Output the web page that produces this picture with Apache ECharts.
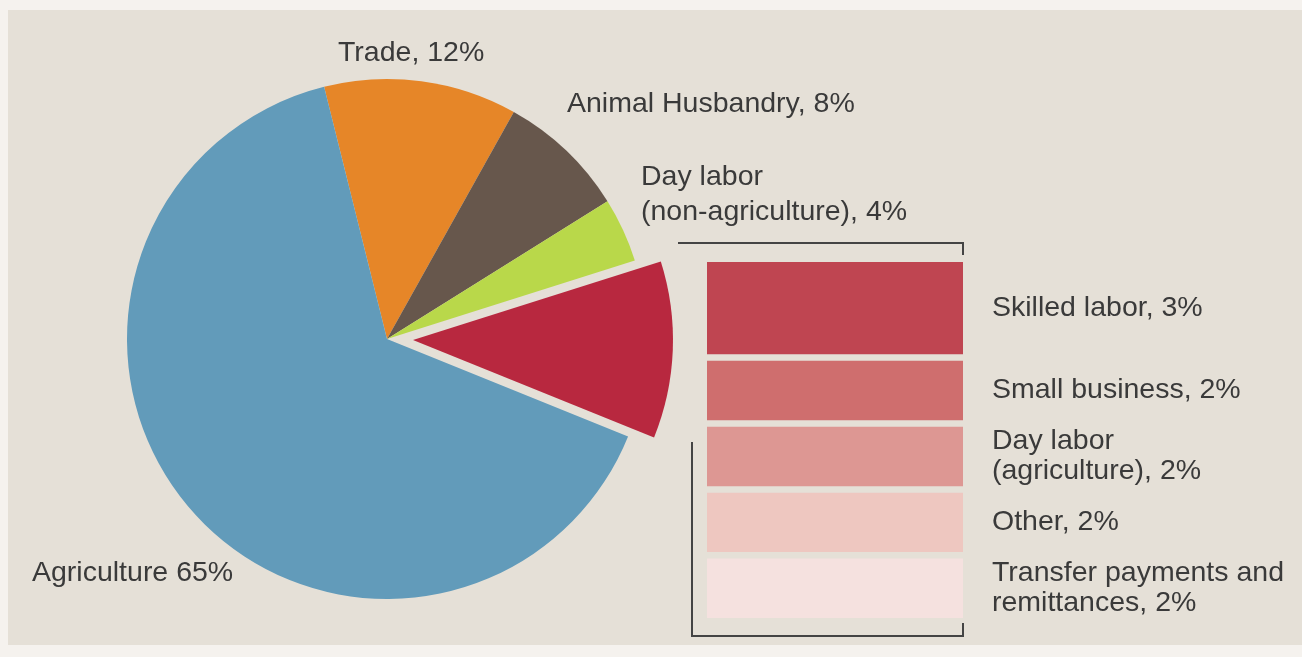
<!DOCTYPE html>
<html>
<head>
<meta charset="utf-8">
<script src="https://cdn.jsdelivr.net/npm/echarts@6/dist/echarts.min.js"></script>
<style>html,body{margin:0;padding:0;background:#f5f2ee}#c{width:1302px;height:657px}</style>
</head>
<body>
<div id="c"></div>
<script>
// ---- data ----
const pieNames = ['Trade', 'Animal Husbandry', 'Day labor\n(non-agriculture)', 'Other', 'Agriculture'];
const pieValues = [12, 8, 4, 11, 65];
const pieSeparators = [', ', ', ', ', ', '', ' '];
const pieColors = ['#e68628', '#67574c', '#b9d84a', '#b8283f', '#629bba'];

const otherNames = ['Skilled labor', 'Small business', 'Day labor\n(agriculture)', 'Other', 'Transfer payments and\nremittances'];
const otherValues = [3, 2, 2, 2, 2];
const otherColors = ['#bf4551', '#cf6e6e', '#dd9793', '#eec7c0', '#f5e1df'];

// ---- layout / style ----
const panel = '#e5e0d7';
const textColor = '#3a3a3a';
const font = '"Liberation Sans", Arial, sans-serif';
const fs = 28.5;
const pieLabelPos = [[338, 53], [567, 104], [641, 194.5], null, [32, 573]];
const half = 3.25; // half the gap between stacked segments

const chart = echarts.init(document.getElementById('c'), null, {renderer: 'canvas'});

const barSeries = otherNames.map((n, i) => ({
  type: 'bar',
  name: n,
  stack: 'total',
  barWidth: '100%',
  data: [{value: otherValues[i], name: n}],
  itemStyle: {color: otherColors[i], borderColor: panel, borderWidth: half},
  label: {
    show: true, position: 'right', distance: 992 - (963 + half),
    formatter: () => n + ', ' + otherValues[i] + '%',
    fontSize: fs, lineHeight: 30, color: textColor, fontFamily: font, align: 'left'
  },
  emphasis: {disabled: true},
  silent: true
}));

chart.setOption({
  backgroundColor: '#f5f2ee',
  animation: false,
  graphic: [
    {type: 'rect', z: -10, silent: true, shape: {x: 8, y: 10, width: 1294, height: 635}, style: {fill: panel}},
    {type: 'polyline', z: 10, silent: true, shape: {points: [[678, 243], [963, 243], [963, 255]]}, style: {stroke: '#444', lineWidth: 2, fill: null}},
    {type: 'polyline', z: 10, silent: true, shape: {points: [[692, 442], [692, 636], [963, 636], [963, 623]]}, style: {stroke: '#444', lineWidth: 2, fill: null}}
  ],
  grid: {left: 707 - half, top: 262 - half, width: 256 + 2 * half, height: 356 + 2 * half},
  xAxis: {type: 'category', data: ['other'], show: false},
  yAxis: {type: 'value', min: 0, max: 11, inverse: true, show: false},
  series: [{
    type: 'pie',
    center: [387, 339],
    radius: 260,
    startAngle: 104,
    clockwise: true,
    selectedMode: 'single',
    selectedOffset: 26,
    avoidLabelOverlap: false,
    silent: true,
    emphasis: {disabled: true},
    itemStyle: {borderWidth: 0},
    labelLine: {show: false},
    label: {
      show: true, position: 'outside',
      fontSize: fs, lineHeight: 35, color: textColor, fontFamily: font,
      formatter: p => p.name + pieSeparators[p.dataIndex] + p.value + '%'
    },
    labelLayout: p => {
      const pos = pieLabelPos[p.dataIndex];
      if (!pos) return {};
      return {x: pos[0], y: pos[1], align: 'left', verticalAlign: 'middle'};
    },
    data: pieNames.map((n, i) => ({
      name: n, value: pieValues[i],
      selected: n === 'Other',
      itemStyle: {color: pieColors[i]},
      label: {show: n !== 'Other'}
    }))
  }].concat(barSeries)
});
</script>
</body>
</html>
